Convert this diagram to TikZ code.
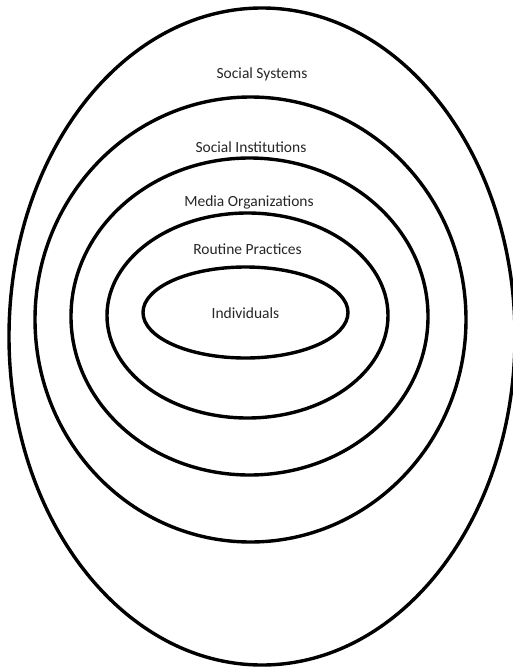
\documentclass[tikz,border=0pt]{standalone}
\usepackage{fontspec}
\setmainfont{Carlito}
\usepackage{tikz}

\begin{document}
\begin{tikzpicture}[x=1pt, y=-1pt,
    ring/.style={line width=3.4pt, black},
    lbl/.style={font=\fontsize{15.5}{18}\selectfont, text=black!85}]
    \useasboundingbox (0,0) rectangle (512,667);
    % Nested layers, outermost first: centre x/y, radius x/y
    \foreach \cx/\cy/\rx/\ry in {262/336.5/253/328.5, 250.5/319.5/215.5/222.5,
        249.5/316.5/178.5/158.5, 247.5/315.5/140.5/102.5, 245.5/312.5/102.5/45.5} {
      \draw[ring] (\cx,\cy) ellipse ({\rx} and {\ry});
    }
    % Layer names, one above each inner ring
    \node[lbl] (systems)  at (262,74)  {Social Systems};
    \node[lbl] (institut) at (251,147) {Social Institutions};
    \node[lbl] (media)    at (249,202) {Media Organizations};
    \node[lbl] (routine)  at (247.5,249) {Routine Practices};
    \node[lbl] (indiv)    at (245.5,313) {Individuals};
  \end{tikzpicture}
\end{document}
